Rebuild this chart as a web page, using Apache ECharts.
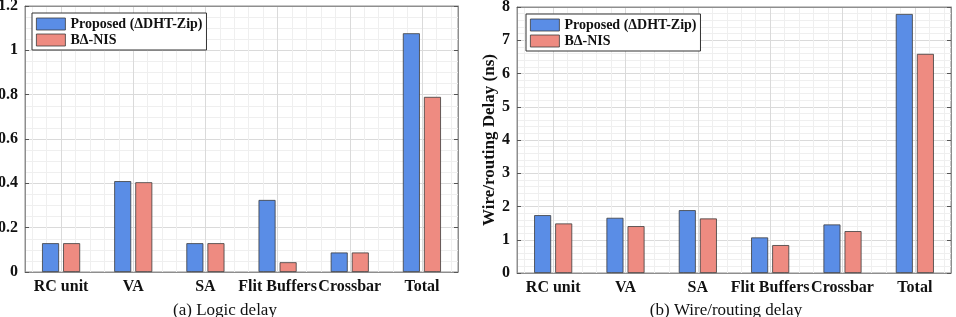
<!DOCTYPE html>
<html>
<head>
<meta charset="utf-8">
<script src="https://cdn.jsdelivr.net/npm/echarts@6/dist/echarts.min.js"></script>
<style>
  html, body { margin: 0; padding: 0; background: #fff; }
  #chart { width: 956px; height: 317px; }
</style>
</head>
<body>
<div id="chart"></div>
<script>
// data
var categories = ['RC unit', 'VA', 'SA', 'Flit Buffers', 'Crossbar', 'Total'];
var seriesNames = ['Proposed (\u0394DHT-Zip)', 'B\u0394-NIS'];
var logicProposed = [0.13, 0.41, 0.13, 0.325, 0.088, 1.077];
var logicBaseline = [0.13, 0.405, 0.13, 0.044, 0.088, 0.79];
var wireProposed = [1.74, 1.66, 1.89, 1.07, 1.46, 7.79];
var wireBaseline = [1.49, 1.41, 1.64, 0.84, 1.26, 6.59];
var captions = ['(a) Logic delay', '(b) Wire/routing delay'];
var wireAxisName = 'Wire/routing Delay (ns)';

var FONT = '"Liberation Serif", "Times New Roman", serif';
var BLUE = '#5a8de6';
var RED = '#ee8b81';
var AXIS = '#8e8e8e';

var myChart = echarts.init(document.getElementById('chart'));

// bottom category axis with the labels
function catAxis(g) {
    return {
        type: 'category', gridIndex: g, data: categories,
        axisLine: { onZero: false, lineStyle: { color: AXIS } },
        axisTick: { inside: true, alignWithLabel: true, length: 4, lineStyle: { color: '#555' } },
        axisLabel: { color: '#111', fontFamily: FONT, fontWeight: 'bold', fontSize: 16, margin: 7, interval: 0 },
        splitLine: { show: false }
    };
}
// top mirror, only ticks
function topAxis(g) {
    return {
        type: 'category', gridIndex: g, data: categories, position: 'top',
        axisLine: { onZero: false, lineStyle: { color: AXIS } },
        axisTick: { inside: true, alignWithLabel: true, length: 4, lineStyle: { color: '#555' } },
        axisLabel: { show: false }, splitLine: { show: false }
    };
}
// hidden value axes only used for vertical grid lines
function vGrid(g, n, color) {
    return {
        type: 'value', gridIndex: g, min: -0.5, max: 5.5, splitNumber: n,
        axisLine: { show: false, onZero: false }, axisTick: { show: false }, axisLabel: { show: false },
        splitLine: { show: true, lineStyle: { color: color, width: 1 } }
    };
}
function valAxis(g, max, interval, minorN, extra) {
    var a = {
        type: 'value', gridIndex: g, min: 0, max: max, interval: interval,
        axisLine: { show: true, onZero: false, lineStyle: { color: AXIS } },
        axisTick: { show: true, inside: true, length: 4, lineStyle: { color: '#555' } },
        axisLabel: { color: '#111', fontFamily: FONT, fontWeight: 'bold', fontSize: 16, margin: 7 },
        splitLine: { show: true, lineStyle: { color: '#dadada' } },
        minorTick: { show: false, splitNumber: minorN },
        minorSplitLine: { show: true, lineStyle: { color: '#efefef' } }
    };
    return Object.assign(a, extra || {});
}
function rightAxis(g, max, interval) {
    return {
        type: 'value', gridIndex: g, min: 0, max: max, interval: interval, position: 'right',
        axisLine: { show: true, onZero: false, lineStyle: { color: AXIS } },
        axisTick: { show: true, inside: true, length: 4, lineStyle: { color: '#555' } },
        axisLabel: { show: false }, splitLine: { show: false }
    };
}
function bar(name, data, xi, yi, color) {
    return {
        name: name, type: 'bar', xAxisIndex: xi, yAxisIndex: yi, data: data,
        barWidth: 17, barGap: '24%',
        itemStyle: { color: color, borderColor: '#3c3c3c', borderWidth: 0.8 },
        z: 5
    };
}
function legend(left, top) {
    return {
        data: seriesNames, orient: 'vertical', left: left, top: top,
        itemWidth: 29, itemHeight: 12, itemGap: 2,
        padding: [4, 4, 3, 4],
        backgroundColor: '#fff', borderColor: '#333', borderWidth: 1, borderRadius: 0,
        icon: 'rect',
        textStyle: { fontFamily: FONT, fontWeight: 'bold', fontSize: 14, color: '#111' },
        itemStyle: { borderColor: '#3c3c3c', borderWidth: 0.8 }
    };
}

option = {
    animation: false,
    backgroundColor: '#fff',
    title: [
        { text: captions[0], left: 220, top: 297, textAlign: 'center',
          textStyle: { fontFamily: FONT, fontWeight: 'normal', fontSize: 17, color: '#111' } },
        { text: captions[1], left: 721, top: 297, textAlign: 'center',
          textStyle: { fontFamily: FONT, fontWeight: 'normal', fontSize: 17, color: '#111' } }
    ],
    legend: [legend(32, 13), legend(526, 14)],
    grid: [
        { left: 25, top: 6, width: 433, height: 266, show: true, borderColor: AXIS, borderWidth: 1,
          outerBoundsMode: 'none' },
        { left: 517, top: 7, width: 434, height: 266, show: true, borderColor: AXIS, borderWidth: 1,
          outerBoundsMode: 'none' }
    ],
    xAxis: [
        catAxis(0), vGrid(0, 30, '#efefef'), vGrid(0, 6, '#dadada'), topAxis(0),
        catAxis(1), vGrid(1, 30, '#efefef'), vGrid(1, 6, '#dadada'), topAxis(1)
    ],
    yAxis: [
        valAxis(0, 1.2, 0.2, 4),
        rightAxis(0, 1.2, 0.2),
        valAxis(1, 8, 1, 5, {
            name: wireAxisName, nameLocation: 'middle', nameGap: 16, nameRotate: 90,
            nameTextStyle: { fontFamily: FONT, fontWeight: 'bold', fontSize: 17, color: '#111' }
        }),
        rightAxis(1, 8, 1)
    ],
    series: [
        bar(seriesNames[0], logicProposed, 0, 0, BLUE),
        bar(seriesNames[1], logicBaseline, 0, 0, RED),
        bar(seriesNames[0], wireProposed, 4, 2, BLUE),
        bar(seriesNames[1], wireBaseline, 4, 2, RED)
    ]
};
myChart.setOption(option);
</script>
</body>
</html>
